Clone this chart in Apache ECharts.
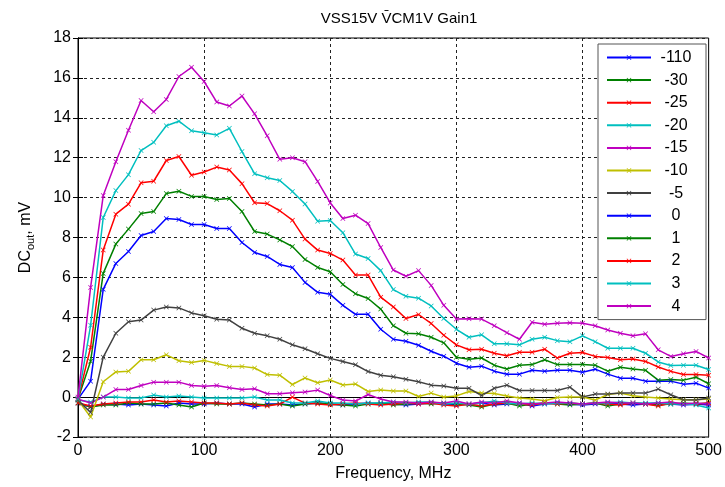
<!DOCTYPE html>
<html>
<head>
<meta charset="utf-8">
<script src="https://cdn.jsdelivr.net/npm/echarts@6/dist/echarts.min.js"></script>
<style>
  html, body { margin: 0; padding: 0; background: #fff; }
  #chart { width: 725px; height: 487px; }
</style>
</head>
<body>
<div id="chart"></div>
<script>
// frequency axis, MHz (one point every 10 MHz)
const freq = [];
for (let f = 0; f <= 500; f += 10) freq.push(f);

const names = ['-110', '-30', '-25', '-20', '-15', '-10', '-5', '0', '1', '2', '3', '4'];

const v_m110 = [-0.3,-0.5,-0.35,-0.35,-0.4,-0.35,-0.4,-0.45,-0.3,-0.35,
  -0.35,-0.3,-0.35,-0.35,-0.5,-0.35,-0.35,-0.4,-0.35,-0.3,
  -0.35,-0.4,-0.35,-0.3,-0.35,-0.35,-0.4,-0.35,-0.3,-0.35,
  -0.4,-0.35,-0.3,-0.4,-0.35,-0.3,-0.45,-0.35,-0.3,-0.35,
  -0.4,-0.35,-0.3,-0.35,-0.4,-0.35,-0.3,-0.35,-0.4,-0.35,-0.4];
const v_m30 = [-0.3,-0.5,-0.4,-0.4,-0.3,-0.35,-0.35,-0.3,-0.4,-0.5,
  -0.3,-0.35,-0.35,-0.3,-0.35,-0.4,-0.35,-0.45,-0.35,-0.3,
  -0.35,-0.4,-0.45,-0.35,-0.3,-0.4,-0.35,-0.3,-0.35,-0.3,
  -0.35,-0.4,-0.5,-0.35,-0.3,-0.45,-0.35,-0.3,-0.35,-0.4,
  -0.35,-0.3,-0.45,-0.35,-0.3,-0.35,-0.4,-0.35,-0.3,-0.35,-0.3];
const v_m25 = [-0.3,-0.45,-0.35,-0.3,-0.25,-0.25,-0.15,-0.25,-0.2,-0.25,
  -0.3,-0.3,-0.35,-0.3,-0.4,-0.45,-0.35,0.0,-0.3,-0.35,
  -0.4,-0.35,-0.3,-0.35,-0.4,-0.35,-0.3,-0.35,-0.3,-0.4,
  -0.45,-0.35,-0.45,-0.35,-0.3,-0.35,-0.4,-0.3,-0.35,-0.3,
  -0.35,-0.3,-0.35,-0.4,-0.3,-0.35,-0.45,-0.3,-0.35,-0.35,-0.3];
const v_m20 = [-0.15,-0.25,0.0,0.0,-0.05,-0.05,0.1,0.0,0.05,0.0,
  -0.05,-0.05,-0.05,-0.05,0.0,-0.15,-0.15,-0.3,-0.3,-0.2,
  -0.3,-0.3,-0.35,-0.3,-0.3,-0.25,-0.3,-0.25,-0.25,-0.35,
  -0.3,-0.35,-0.3,-0.2,-0.3,-0.35,-0.3,-0.35,-0.3,-0.3,
  -0.35,-0.3,-0.3,-0.25,-0.3,-0.3,-0.3,-0.35,-0.35,-0.4,-0.55];
const v_m15 = [-0.1,-0.3,0.0,0.38,0.38,0.58,0.75,0.75,0.75,0.58,
  0.55,0.58,0.47,0.38,0.42,0.17,0.17,0.22,0.25,0.35,
  0.08,-0.15,-0.2,0.13,-0.1,-0.25,-0.25,-0.3,-0.25,-0.3,
  -0.2,-0.35,-0.25,-0.3,-0.2,-0.3,-0.35,-0.3,-0.25,-0.3,
  -0.35,-0.3,-0.25,-0.3,-0.3,-0.35,-0.3,-0.25,-0.35,-0.3,-0.35];
const v_m10 = [-0.15,-1.0,0.77,1.26,1.29,1.87,1.87,2.12,1.82,1.74,
  1.84,1.68,1.54,1.54,1.46,1.13,1.1,0.63,0.96,0.72,
  0.86,0.61,0.66,0.28,0.36,0.31,0.31,0.03,0.2,0.0,
  0.06,0.28,0.2,0.18,0.05,-0.05,-0.1,-0.18,-0.02,0.0,
  0.0,-0.15,0.13,0.2,0.07,0.0,-0.05,-0.1,-0.13,-0.13,-0.1];
const v_m5 = [-0.15,-0.77,2.0,3.2,3.78,3.86,4.36,4.52,4.47,4.22,
  4.08,3.9,3.86,3.45,3.2,3.07,2.9,2.62,2.42,2.17,
  1.94,1.78,1.62,1.28,1.1,1.02,0.9,0.77,0.6,0.56,
  0.44,0.44,0.08,0.44,0.6,0.33,0.33,0.33,0.33,0.5,
  0.0,0.15,0.15,0.2,0.2,0.2,0.4,0.12,-0.13,-0.15,-0.05];
const v_0 = [-0.1,0.8,5.4,6.7,7.3,8.1,8.3,8.95,8.9,8.65,
  8.65,8.45,8.45,7.75,7.25,7.05,6.65,6.5,5.75,5.25,
  5.15,4.6,4.15,4.15,3.4,2.9,2.8,2.6,2.3,2.05,
  1.7,1.5,1.55,1.3,1.15,1.15,1.35,1.3,1.35,1.35,
  1.25,1.4,1.15,0.95,0.95,0.8,0.8,0.8,0.65,0.7,0.45];
const v_1 = [-0.1,1.8,6.2,7.67,8.42,9.2,9.3,10.2,10.32,10.06,
  10.06,9.9,9.96,9.3,8.3,8.17,7.88,7.55,6.9,6.5,
  6.28,5.64,5.18,4.94,4.41,3.58,3.2,3.18,3.0,2.72,
  2.0,1.9,1.96,1.6,1.41,1.6,1.63,1.87,1.63,1.63,
  1.63,1.6,1.3,1.5,1.41,1.34,0.85,0.88,0.85,1.0,0.67];
const v_2 = [-0.1,2.5,7.37,9.17,9.67,10.74,10.82,11.86,12.06,11.12,
  11.28,11.53,11.38,10.7,9.74,9.7,9.34,8.87,7.92,7.37,
  7.2,6.87,6.12,6.12,5.01,4.52,3.94,4.14,3.69,3.1,
  2.62,2.37,2.4,2.2,2.07,2.25,2.25,2.4,1.96,2.2,
  2.24,2.04,1.99,1.87,1.91,1.79,1.51,1.29,1.13,1.13,1.1];
const v_3 = [-0.1,3.6,9.0,10.35,11.15,12.36,12.77,13.6,13.83,13.35,
  13.25,13.14,13.47,12.31,11.2,11.0,10.86,10.31,9.68,8.82,
  8.85,8.24,7.17,6.95,6.34,5.39,5.05,4.96,4.57,3.94,
  3.4,3.0,3.12,2.67,2.67,2.62,2.9,3.0,2.83,2.78,
  3.07,2.78,2.45,2.45,2.45,2.2,1.76,1.58,1.6,1.6,1.38];
const v_4 = [0.0,5.5,10.1,11.8,13.38,14.87,14.3,14.92,16.07,16.53,
  15.82,14.79,14.59,15.09,14.2,13.1,11.92,12.0,11.8,10.81,
  9.73,8.95,9.12,8.7,7.5,6.37,6.06,6.34,5.6,4.6,
  3.91,3.93,3.91,3.58,3.23,2.9,3.75,3.65,3.7,3.73,
  3.7,3.58,3.36,3.2,3.07,3.17,2.37,2.04,2.17,2.29,1.96];

const values = [v_m110, v_m30, v_m25, v_m20, v_m15, v_m10, v_m5, v_0, v_1, v_2, v_3, v_4];
const colors = ['#0000ff', '#008000', '#ff0000', '#00bfbf', '#bf00bf', '#bfbf00', '#404040',
                '#0000ff', '#008000', '#ff0000', '#00bfbf', '#bf00bf'];

// small "x" marker
const xMark = 'path://M0,1L1,0L5,4L9,0L10,1L6,5L10,9L9,10L5,6L1,10L0,9L4,5Z';
const FONT = 'Liberation Sans, Arial, sans-serif';

const chart = echarts.init(document.getElementById('chart'));

const series = names.map((n, i) => ({
  name: n,
  type: 'line',
  data: freq.map((f, j) => [f, values[i][j]]),
  symbol: xMark,
  symbolSize: 5,
  showSymbol: true,
  lineStyle: { width: 1.5, color: colors[i] },
  itemStyle: { color: colors[i] },
  emphasis: { disabled: true },
  animation: false
}));

const gridLine = { show: true, lineStyle: { color: '#222', type: [3, 3], width: 1 } };

chart.setOption({
  animation: false,
  textStyle: { fontFamily: FONT },
  title: {
    text: 'VSS15V V\u0304CM1V Gain1',
    left: 394, top: 6, textAlign: 'center',
    textStyle: { fontSize: 15, fontWeight: 'normal', color: '#000', fontFamily: FONT }
  },
  grid: { left: 78, right: 15, top: 38, bottom: 46, show: true, borderColor: '#000', borderWidth: 1 },
  legend: {
    orient: 'vertical',
    left: 598, top: 44,
    padding: [5, 10, 5, 8],
    itemWidth: 44, itemHeight: 6, itemGap: 5.6,
    backgroundColor: '#fff', borderColor: '#555', borderWidth: 1, borderRadius: 0,
    formatter: n => '{c|' + n + '}',
    textStyle: {
      color: '#000', fontSize: 16, lineHeight: 17, fontFamily: FONT,
      rich: { c: { width: 40, align: 'center', fontSize: 16, lineHeight: 17, fontFamily: FONT } }
    },
    data: names
  },
  xAxis: [{
    type: 'value', min: 0, max: 500, interval: 100,
    name: 'Frequency, MHz', nameLocation: 'middle', nameGap: 29,
    nameTextStyle: { fontSize: 16, color: '#000', fontFamily: FONT },
    axisLine: { show: true, lineStyle: { color: '#000' } },
    axisTick: { show: true, inside: true, length: 5, lineStyle: { color: '#000' } },
    axisLabel: { fontSize: 16, color: '#000', margin: 6, fontFamily: FONT },
    splitLine: gridLine
  }, {
    type: 'value', min: 0, max: 500, interval: 100, position: 'top',
    axisLine: { show: true, lineStyle: { color: '#000' } },
    axisTick: { show: true, inside: true, length: 5, lineStyle: { color: '#000' } },
    axisLabel: { show: false }, splitLine: { show: false }
  }],
  yAxis: [{
    type: 'value', min: -2, max: 18, interval: 2,
    name: '{a|DC}{b|out}{a|, mV}', nameLocation: 'middle', nameGap: 42, nameRotate: 90,
    nameTextStyle: {
      color: '#000', fontFamily: FONT,
      rich: {
        a: { fontSize: 16, color: '#000', lineHeight: 20, verticalAlign: 'middle', fontFamily: FONT },
        b: { fontSize: 11, color: '#000', lineHeight: 20, verticalAlign: 'bottom', fontFamily: FONT }
      }
    },
    axisLine: { show: true, lineStyle: { color: '#000' } },
    axisTick: { show: true, inside: true, length: 5, lineStyle: { color: '#000' } },
    axisLabel: { fontSize: 16, color: '#000', margin: 7, fontFamily: FONT },
    splitLine: gridLine
  }, {
    type: 'value', min: -2, max: 18, interval: 2, position: 'right',
    axisLine: { show: true, lineStyle: { color: '#000' } },
    axisTick: { show: true, inside: true, length: 5, lineStyle: { color: '#000' } },
    axisLabel: { show: false }, splitLine: { show: false }
  }],
  series: series
});
</script>
</body>
</html>
